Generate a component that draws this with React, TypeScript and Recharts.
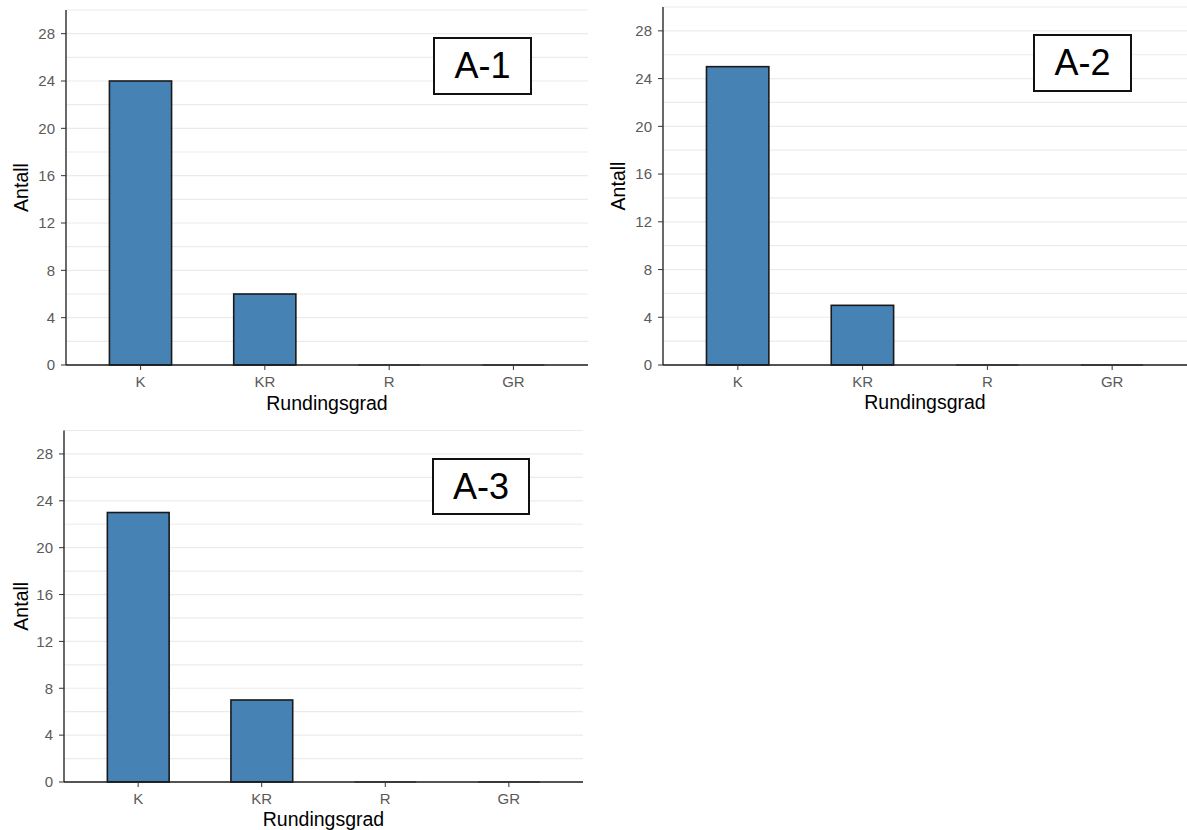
import { BarChart, Bar, XAxis, YAxis, CartesianGrid } from 'recharts';

const categories = ['K', 'KR', 'R', 'GR'];
const countsA1 = [24, 6, 0, 0];
const countsA2 = [25, 5, 0, 0];
const countsA3 = [23, 7, 0, 0];
const yTicks = [0, 4, 8, 12, 16, 20, 24, 28];
const gridValues = [2, 4, 6, 8, 10, 12, 14, 16, 18, 20, 22, 24, 26, 28, 30];
const yDomain: [number, number] = [0, 30];

const FONT = '"Liberation Sans", Arial, sans-serif';

const toRows = (counts: number[]) => categories.map((cat, i) => ({ cat, antall: counts[i] }));

// ggplot draws zero-count bars as a flat outline, recharts skips them
const BarShape = (props: any) => {
  const { x, y, width, height } = props;
  if (!height) {
    return <line x1={x} x2={x + width} y1={y} y2={y} stroke="#333" strokeWidth={1} />;
  }
  return (
    <rect x={x} y={y} width={width} height={height} fill="#4682B4" stroke="#1a1a1a" strokeWidth={1.6} />
  );
};

interface PanelProps {
  counts: number[];
  tag: string;
  left: number;
  top: number;
  width: number;
  height: number;
  margin: { top: number; right: number; left: number; bottom: number };
  yAxisWidth: number;
  xAxisHeight: number;
  xTitleOffset: number;
  box: { left: number; top: number; width: number; height: number };
}

function Panel({ counts, tag, left, top, width, height, margin, yAxisWidth, xAxisHeight, xTitleOffset, box }: PanelProps) {
  const plotW = width - margin.left - margin.right - yAxisWidth;
  const step = plotW / 4.2;
  const pad = (plotW - step * 4) / 2;
  return (
    <>
      <div style={{ position: 'absolute', left, top }}>
        <BarChart width={width} height={height} data={toRows(counts)} margin={margin}>
          <CartesianGrid
            vertical={false}
            horizontalValues={gridValues}
            stroke="#ebebeb"
            strokeWidth={1.2}
          />
          <XAxis
            dataKey="cat"
            height={xAxisHeight}
            padding={{ left: pad, right: pad }}
            axisLine={{ stroke: '#1a1a1a', strokeWidth: 1.3 }}
            tickLine={{ stroke: '#333' }}
            tickSize={5}
            tickMargin={6}
            tick={{ fill: '#5a5a5a', fontSize: 15, fontFamily: FONT }}
            label={{
              value: 'Rundingsgrad',
              position: 'insideBottom',
              offset: xTitleOffset,
              style: { fill: '#000', fontSize: 19.5, fontFamily: FONT },
            }}
          />
          <YAxis
            width={yAxisWidth}
            domain={yDomain}
            ticks={yTicks}
            interval={0}
            axisLine={{ stroke: '#1a1a1a', strokeWidth: 1.3 }}
            tickLine={{ stroke: '#333' }}
            tickSize={5}
            tickMargin={6}
            tick={{ fill: '#5a5a5a', fontSize: 15, fontFamily: FONT }}
            label={{
              value: 'Antall',
              angle: -90,
              position: 'insideLeft',
              offset: 21,
              style: { fill: '#000', fontSize: 19.5, fontFamily: FONT, textAnchor: 'middle' },
            }}
          />
          <Bar dataKey="antall" barSize={step * 0.5} shape={BarShape} isAnimationActive={false} />
        </BarChart>
      </div>
      <div
        style={{
          position: 'absolute',
          left: box.left,
          top: box.top,
          width: box.width,
          height: box.height,
          boxSizing: 'border-box',
          border: '2px solid #111',
          background: '#fff',
          display: 'flex',
          alignItems: 'center',
          justifyContent: 'center',
          fontFamily: FONT,
          fontSize: 36,
          color: '#000',
        }}
      >
        {tag}
      </div>
    </>
  );
}

export default function App() {
  return (
    <div style={{ position: 'absolute', left: 0, top: 0, width: 1187, height: 830, background: '#fff' }}>
      <Panel
        counts={countsA1}
        tag="A-1"
        left={0}
        top={0}
        width={590}
        height={415}
        margin={{ top: 10, right: 2, left: 0, bottom: 0 }}
        yAxisWidth={66}
        xAxisHeight={50}
        xTitleOffset={5}
        box={{ left: 433, top: 37, width: 99, height: 58 }}
      />
      <Panel
        counts={countsA2}
        tag="A-2"
        left={597}
        top={0}
        width={590}
        height={415}
        margin={{ top: 7, right: 0, left: 0, bottom: 0 }}
        yAxisWidth={66}
        xAxisHeight={50}
        xTitleOffset={6}
        box={{ left: 1033, top: 34, width: 99, height: 58 }}
      />
      <Panel
        counts={countsA3}
        tag="A-3"
        left={0}
        top={420}
        width={590}
        height={410}
        margin={{ top: 10.5, right: 7, left: 0, bottom: 0 }}
        yAxisWidth={64}
        xAxisHeight={48}
        xTitleOffset={4}
        box={{ left: 432, top: 458, width: 98, height: 57 }}
      />
    </div>
  );
}
